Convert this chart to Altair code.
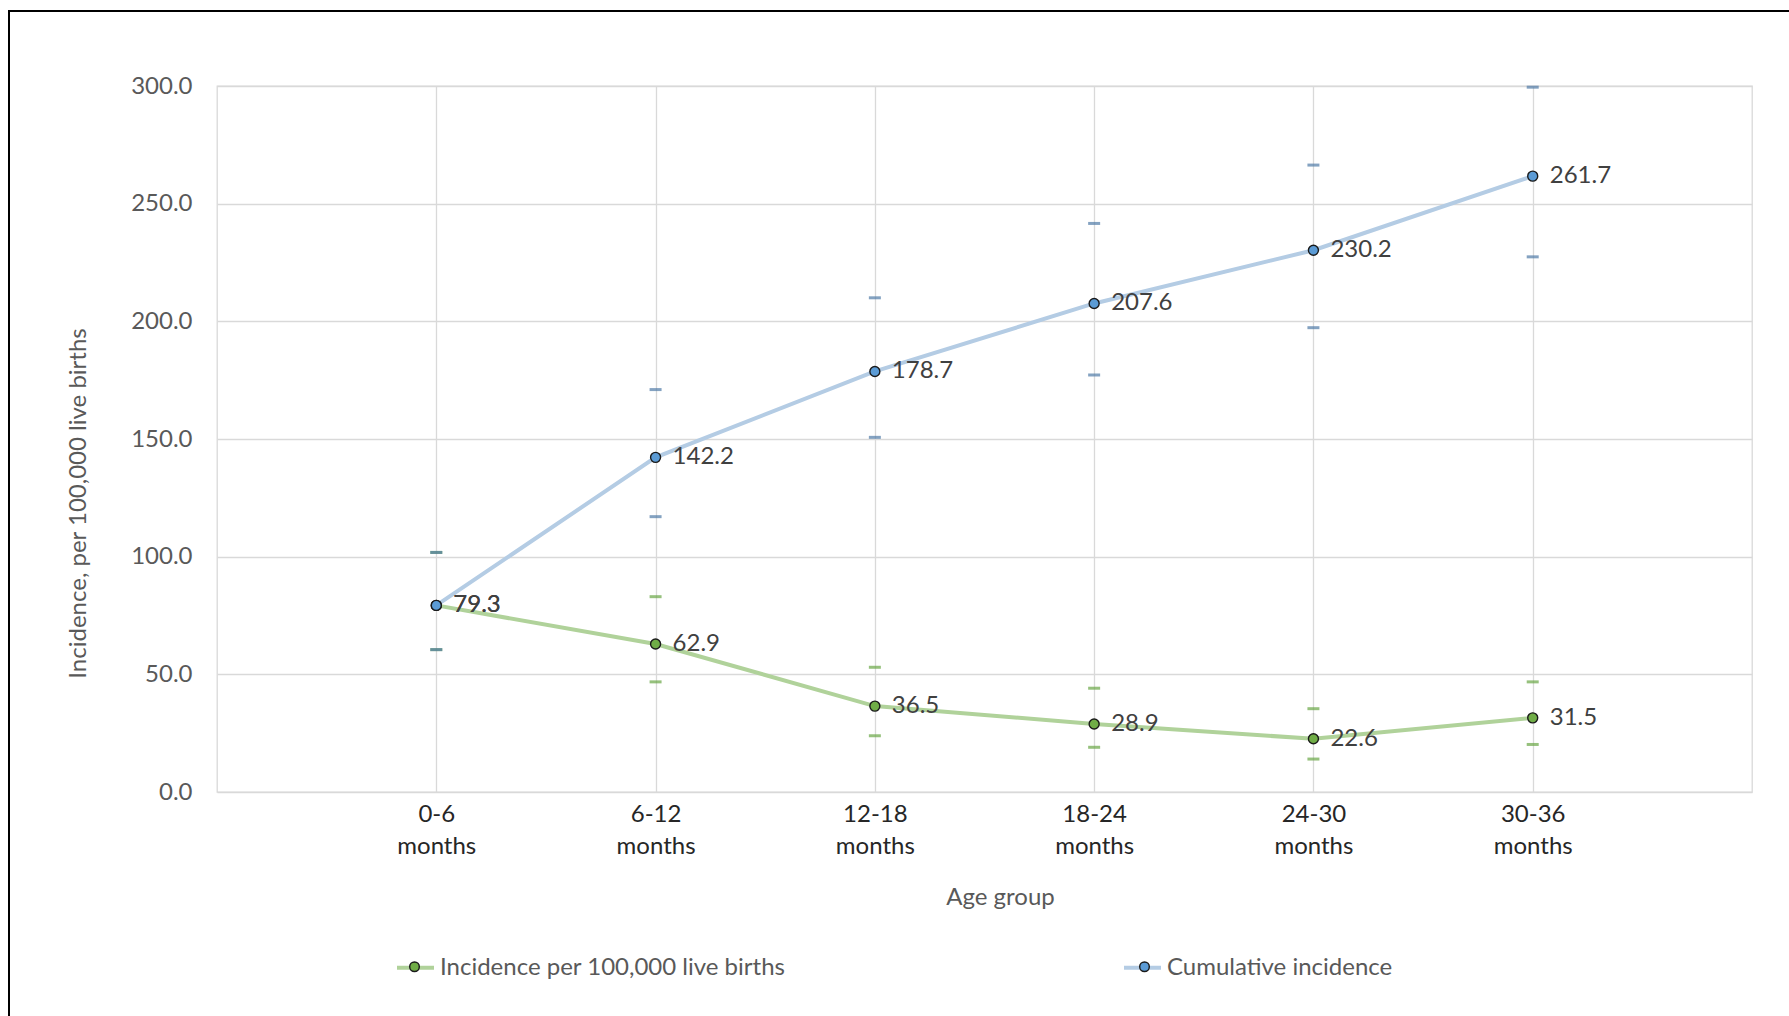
import altair as alt
import pandas as pd

# Age bands on the x axis
groups = ["0-6 months", "6-12 months", "12-18 months",
          "18-24 months", "24-30 months", "30-36 months"]
series_names = ["Incidence per 100,000 live births", "Cumulative incidence"]

# Incidence per 100,000 live births, with 95% CI bounds
incidence = [79.3, 62.9, 36.5, 28.9, 22.6, 31.5]
incidence_lo = [60.5, 46.8, 23.9, 19.0, 14.0, 20.2]
incidence_hi = [101.8, 83.0, 53.0, 44.1, 35.4, 46.8]

# Cumulative incidence, with 95% CI bounds
cumulative = [79.3, 142.2, 178.7, 207.6, 230.2, 261.7]
cumulative_lo = [60.5, 117.0, 150.7, 177.2, 197.3, 227.4]
cumulative_hi = [101.8, 171.0, 210.0, 241.6, 266.4, 299.5]

y_ticks = [0, 50, 100, 150, 200, 250, 300]

rows = []
for name, vals, lo, hi in [
    (series_names[0], incidence, incidence_lo, incidence_hi),
    (series_names[1], cumulative, cumulative_lo, cumulative_hi),
]:
    for g, v, l, h in zip(groups, vals, lo, hi):
        rows.append({"group": g, "series": name, "marker": name,
                     "value": v, "lo": l, "hi": h})
df = pd.DataFrame(rows)

GREEN_LINE, BLUE_LINE = "#b0d29a", "#b4cce4"
GREEN_PT, BLUE_PT = "#70ad47", "#5b9bd5"
GREEN_TICK, BLUE_TICK = "#6aa646", "#507ba6"
GRID = "#d9d9d9"

x_axis = alt.Axis(
    title="Age group", labelAngle=0, labelExpr="split(datum.label, ' ')",
    labelFontSize=24, labelColor="#262626", labelLineHeight=32,
    labelPadding=10, labelBaseline="top", ticks=False, domain=False,
    grid=True, gridColor=GRID, gridWidth=1.3,
    titleX=783, titleY=105, titleBaseline="middle", titleFontSize=24,
    titleColor="#595959", titleFontWeight="normal",
)
y_axis = alt.Axis(
    title="Incidence, per 100,000 live births", values=y_ticks, format=".1f",
    labelFontSize=24, labelColor="#595959", labelPadding=25, ticks=False,
    domain=False, grid=True, gridColor=GRID, gridWidth=1.3,
    titleX=-139, titleY=417, titleAngle=270, titleAlign="center",
    titleBaseline="middle", titleFontSize=24, titleColor="#595959",
    titleFontWeight="normal",
)
x_scale = alt.Scale(type="point", padding=1)
y_scale = alt.Scale(domain=[0, 300], nice=False)


def X():
    return alt.X("group:N", sort=groups, scale=x_scale, axis=x_axis)


def Y(field):
    return alt.Y(f"{field}:Q", scale=y_scale, axis=y_axis)


base = alt.Chart(df)

legend_common = dict(
    orient="none", legendX=178, legendY=861, direction="horizontal",
    symbolSize=1369, labelFontSize=24, labelColor="#595959", labelLimit=600,
    labelOffset=4, padding=0,
)

lines = base.mark_line(strokeWidth=4).encode(
    x=X(), y=Y("value"),
    color=alt.Color(
        "series:N", title=None,
        scale=alt.Scale(domain=series_names, range=[GREEN_LINE, BLUE_LINE]),
        legend=alt.Legend(symbolType="M-1,0L1,0", symbolStrokeWidth=4,
                          columnPadding=330, **legend_common),
    ),
)

tick_color = alt.condition(alt.datum.series == series_names[1],
                           alt.value(BLUE_TICK), alt.value(GREEN_TICK))
ticks_lo = base.mark_tick(thickness=3, size=12, orient="horizontal").encode(
    x=X(), y=Y("lo"), color=tick_color)
ticks_hi = base.mark_tick(thickness=3, size=12, orient="horizontal").encode(
    x=X(), y=Y("hi"), color=tick_color)

# Marker legend sits on top of the line legend so each key reads as a
# line with a dot in its middle
points = base.mark_point(shape="circle", filled=True, size=100, opacity=1,
                         stroke="#1a1a1a", strokeWidth=1.4).encode(
    x=X(), y=Y("value"),
    fill=alt.Fill(
        "marker:N", title=None, sort=series_names,
        scale=alt.Scale(range=[GREEN_PT, BLUE_PT]),
        legend=alt.Legend(
            symbolType="M0.26,0A0.26,0.26,0,1,1,-0.26,0A0.26,0.26,0,1,1,0.26,0Z",
            symbolStrokeColor="#1a1a1a", symbolStrokeWidth=1.4,
            labelOpacity=0, columnPadding=341, **legend_common),
    ),
)

labels = base.mark_text(align="left", baseline="middle", dx=17, fontSize=24,
                        color="#404040").encode(
    x=X(), y=Y("value"), text=alt.Text("value:Q", format=".1f"))

# Outer frame on the left and top of the figure
frame_df = pd.DataFrame({"k": [0]})
frame_left = alt.Chart(frame_df).mark_rule(color="#000000", strokeWidth=2).encode(
    x=alt.value(-208), y=alt.value(-75), y2=alt.value(930))
frame_top = alt.Chart(frame_df).mark_rule(color="#000000", strokeWidth=2).encode(
    x=alt.value(-209), x2=alt.value(1572), y=alt.value(-75))

chart = alt.layer(
    lines, ticks_lo, ticks_hi, points, labels, frame_left, frame_top
).properties(
    width=1535, height=706,
    autosize=alt.AutoSizeParams(type="none"),
    padding={"left": 217, "top": 86, "right": 37, "bottom": 224},
    background="white",
).configure(font="Lato").configure_view(stroke=GRID, strokeWidth=1.3)

chart.save("out.html", embed_options={"renderer": "svg", "actions": False})
